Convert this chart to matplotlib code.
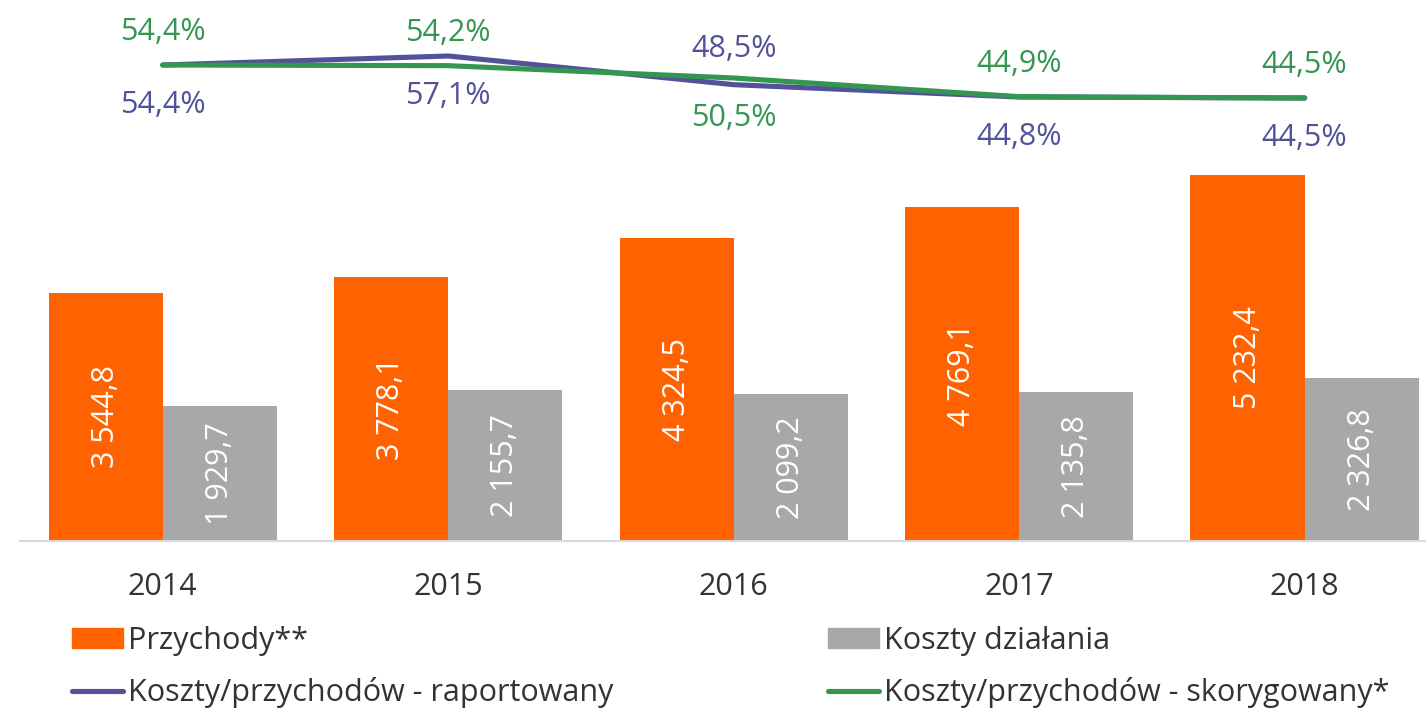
import matplotlib.pyplot as plt
from matplotlib.patches import Patch
from matplotlib.lines import Line2D

plt.rcParams['font.family'] = ['Open Sans', 'DejaVu Sans']

# --- data
years = ["2014", "2015", "2016", "2017", "2018"]
przychody = [3544.8, 3778.1, 4324.5, 4769.1, 5232.4]
koszty = [1929.7, 2155.7, 2099.2, 2135.8, 2326.8]
cir_raport = [54.4, 57.1, 48.5, 44.8, 44.5]
cir_skoryg = [54.4, 54.2, 50.5, 44.9, 44.5]
# which label sits above the line for each year (True -> reported series on top)
raport_on_top = [False, False, True, False, False]

ORANGE = "#FF6200"
GREY = "#A8A8A8"
PURPLE = "#525199"
GREEN = "#349651"
TXT = "#333333"
FS = 22

def pl_num(v):
    return f"{v:,.1f}".replace(",", " ").replace(".", ",")

fig = plt.figure(figsize=(14.26, 7.12), dpi=100)
ax = fig.add_axes([20 / 1426, 171 / 712, 1406 / 1426, 541 / 712])
ax2 = ax.twinx()

x = list(range(len(years)))
w = 0.4
xo = [i - w / 2 for i in x]
xg = [i + w / 2 for i in x]
ax.bar(xo, przychody, width=w, color=ORANGE, zorder=2)
ax.bar(xg, koszty, width=w, color=GREY, zorder=2)

for xi, v in zip(xo, przychody):
    ax.text(xi, v / 2, pl_num(v), rotation=90, ha="center", va="center",
            color="white", fontsize=FS)
for xi, v in zip(xg, koszty):
    ax.text(xi, v / 2, pl_num(v), rotation=90, ha="center", va="center",
            color="white", fontsize=FS)

ax.set_xlim(-0.5, 4.425)
ax.set_ylim(0, 7729)
ax.set_xticks(x)
ax.set_xticklabels(years, fontsize=FS, color=TXT)
ax.tick_params(axis="x", length=0, pad=22)
ax.set_yticks([])
for s in ["top", "left", "right"]:
    ax.spines[s].set_visible(False)
ax.spines["bottom"].set_color("#D9D9D9")
ax.spines["bottom"].set_linewidth(1.5)

# --- cost/income lines
ax2.plot(x, cir_raport, color=PURPLE, lw=3.7, solid_capstyle="round", zorder=3)
ax2.plot(x, cir_skoryg, color=GREEN, lw=3.7, solid_capstyle="round", zorder=4)
ax2.set_ylim(-88.4, 73.9)
ax2.set_yticks([])
for s in ax2.spines.values():
    s.set_visible(False)

for i in x:
    up_r = raport_on_top[i]
    ax2.annotate(f"{cir_raport[i]:.1f}%".replace(".", ","), (i, cir_raport[i]),
                 xytext=(0, 36 if up_r else -40), textcoords="offset pixels",
                 ha="center", va="center", color=PURPLE, fontsize=FS)
    ax2.annotate(f"{cir_skoryg[i]:.1f}%".replace(".", ","), (i, cir_skoryg[i]),
                 xytext=(0, -40 if up_r else 33), textcoords="offset pixels",
                 ha="center", va="center", color=GREEN, fontsize=FS)

# --- legend in two columns
col1 = [Patch(color=ORANGE), Line2D([], [], color=PURPLE, lw=3.7, solid_capstyle="round")]
col2 = [Patch(color=GREY), Line2D([], [], color=GREEN, lw=3.7, solid_capstyle="round")]
lab1 = ["Przychody**", "Koszty/przychodów - raportowany"]
lab2 = ["Koszty działania", "Koszty/przychodów - skorygowany*"]
for h, l, xpos in [(col1, lab1, 72), (col2, lab2, 828)]:
    leg = fig.legend(h, l, loc="center left", bbox_to_anchor=(xpos / 1426, 45 / 712),
                     frameon=False, fontsize=FS, handlelength=1.68, handleheight=0.62,
                     handletextpad=0.15, labelspacing=0.68, borderpad=0, borderaxespad=0)
    for t in leg.get_texts():
        t.set_color(TXT)

fig.savefig("out.png", dpi=100)
